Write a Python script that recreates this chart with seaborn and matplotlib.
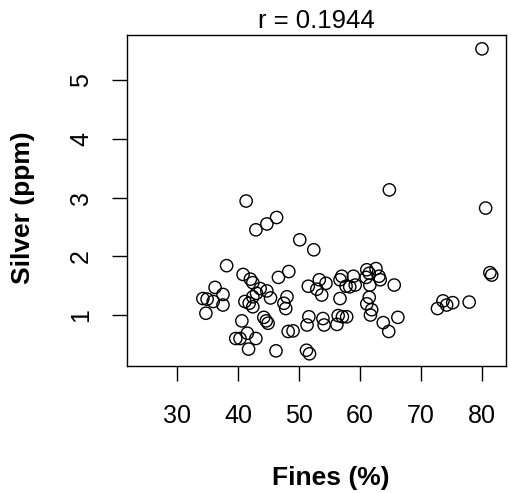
import pandas as pd
import seaborn as sns
import matplotlib
matplotlib.use('Agg')
import matplotlib.pyplot as plt

# fines (%) and silver (ppm)
fines = [41.3, 42.9, 44.7, 46.3, 50.1, 52.4, 38.1, 40.8, 42.0, 42.4,
         46.6, 48.3, 36.2, 37.5, 34.2, 34.9, 35.9, 37.5, 34.7, 40.6,
         43.6, 44.7, 43.0, 42.4, 45.3, 41.1, 41.8, 42.4, 48.0, 47.5,
         47.8, 44.2, 44.6, 44.9, 39.6, 40.3, 41.5, 42.9, 41.7, 46.2,
         48.2, 49.0, 51.2, 51.7, 51.6, 51.3, 53.9, 54.1, 51.5, 53.3,
         54.4, 52.9, 53.7,
         64.8, 80.6, 81.3, 81.6, 77.9, 75.2, 73.6, 74.2, 72.7, 65.6,
         66.2, 63.8, 64.7, 61.5, 61.1, 61.9, 61.7, 62.6, 61.1, 61.5,
         61.0, 63.1, 63.3, 61.6, 57.0, 58.9, 56.7, 57.7, 58.3, 59.2,
         56.7, 56.4, 57.1, 57.8, 56.2,
         80.0]
silver = [2.94, 2.45, 2.55, 2.66, 2.28, 2.11, 1.84, 1.69, 1.61, 1.55,
          1.64, 1.74, 1.47, 1.35, 1.28, 1.27, 1.23, 1.17, 1.03, 0.90,
          1.45, 1.41, 1.37, 1.31, 1.29, 1.23, 1.20, 1.14, 1.31, 1.20,
          1.11, 0.96, 0.90, 0.86, 0.60, 0.60, 0.69, 0.60, 0.42, 0.39,
          0.72, 0.73, 0.40, 0.34, 0.97, 0.83, 0.94, 0.83, 1.49, 1.60,
          1.54, 1.44, 1.34,
          3.13, 2.82, 1.72, 1.68, 1.22, 1.21, 1.24, 1.17, 1.11, 1.51,
          0.96, 0.87, 0.72, 1.30, 1.19, 1.09, 1.00, 1.79, 1.77, 1.71,
          1.64, 1.66, 1.60, 1.51, 1.66, 1.66, 1.60, 1.49, 1.48, 1.51,
          1.28, 0.99, 0.97, 0.97, 0.84,
          5.53]
r_text = "r = 0.1944"

df = pd.DataFrame({"Fines": fines, "Silver": silver})

sns.set_style("white")
plt.rcParams['font.family'] = ['Liberation Sans', 'DejaVu Sans']
plt.rcParams['text.color'] = 'black'
plt.rcParams['axes.labelcolor'] = 'black'
plt.rcParams['xtick.color'] = 'black'
plt.rcParams['ytick.color'] = 'black'

fig = plt.figure(figsize=(5.11, 4.93), dpi=100)
ax = fig.add_axes([0.2485, 0.2576, 0.7417, 0.6714])

sns.scatterplot(data=df, x="Fines", y="Silver", ax=ax, marker='o', s=78,
                linewidth=1.0)
ax.collections[0].set_facecolor('none')
ax.collections[0].set_edgecolor('black')

ax.set_xlim(21.75, 83.94)
ax.set_ylim(0.132, 5.766)
ax.set_xticks([30, 40, 50, 60, 70, 80])
ax.set_yticks([1, 2, 3, 4, 5])
ax.tick_params(axis='both', direction='out', length=11, width=1.0,
               labelsize=18, bottom=True, left=True)
ax.tick_params(axis='x', pad=16)
ax.tick_params(axis='y', pad=13.5)
for lab in ax.get_yticklabels():
    lab.set_rotation(90)
    lab.set_va('center')
for sp in ax.spines.values():
    sp.set_color('black')
    sp.set_linewidth(1.0)

ax.set_xlabel("Fines (%)", fontsize=19, fontweight='bold')
ax.set_ylabel("Silver (ppm)", fontsize=19, fontweight='bold')
ax.xaxis.set_label_coords(0.538, -0.338)
ax.xaxis.label.set_va('center')
ax.yaxis.set_label_coords(-0.274, 0.477)
ax.yaxis.label.set_va('center')
ax.yaxis.label.set_ha('center')
ax.set_title(r_text, fontsize=18.5, pad=5)

fig.savefig("out.png", dpi=100)
